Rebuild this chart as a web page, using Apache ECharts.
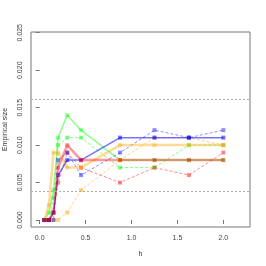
<!DOCTYPE html>
<html><head><meta charset="utf-8">
<script src="https://cdn.jsdelivr.net/npm/echarts@6/dist/echarts.min.js"></script>
<style>html,body{margin:0;padding:0;background:#fff}#c{width:266px;height:266px}</style>
</head><body><div id="c"></div>
<script>
var hValues = [0.05, 0.1, 0.15, 0.2, 0.3, 0.45, 0.875, 1.25, 1.625, 2.0];
var greenSolid   = [0, 0.001, 0.004, 0.011, 0.014, 0.012, 0.008, 0.008, 0.008, 0.008];
var greenDashed  = [0, 0, 0.003, 0.010, 0.011, 0.011, 0.007, 0.007, 0.010, 0.010];
var redSolid     = [0, 0, 0.001, 0.007, 0.010, 0.008, 0.008, 0.008, 0.008, 0.008];
var redDashed    = [0, 0, 0.001, 0.005, 0.009, 0.007, 0.005, 0.007, 0.006, 0.009];
var blueSolid    = [0, 0, 0.001, 0.006, 0.008, 0.008, 0.011, 0.011, 0.011, 0.011];
var blueDashed   = [0, 0, 0, 0.008, 0.009, 0.006, 0.009, 0.012, 0.011, 0.012];
var orangeSolid  = [0, 0.002, 0.009, 0.009, 0.007, 0.007, 0.010, 0.010, 0.010, 0.010];
var orangeDashed = [0, 0, 0, 0, 0.001, 0.004, 0.008, 0.011, 0.011, 0.010];
var xTicks = [0, 0.5, 1.0, 1.5, 2.0];
var yTicks = [0, 0.005, 0.010, 0.015, 0.020, 0.025];
var refLines = [0.003833, 0.016167];

function pairs(ys){ return hValues.map(function(x,i){ return [x, ys[i]]; }); }
function mk(ys, color, dashed, width, op, z){
  return {
    type:'line', data: pairs(ys), symbol:'rect', symbolSize:4,
    itemStyle:{color:color, opacity:op},
    lineStyle:{color:color, width: width, type: dashed?[3,2]:'solid', opacity:op},
    z: z, silent:true, animation:false
  };
}
var series = [
  mk(greenSolid,'#00ff00',false,1.5,0.45,2), mk(greenDashed,'#00ff00',true,1,0.5,2),
  mk(orangeSolid,'#ffa500',false,2.5,0.4,3), mk(orangeDashed,'#ffa500',true,1,0.5,2),
  mk(redSolid,'#ff0000',false,2.5,0.4,4), mk(redDashed,'#ff0000',true,1,0.45,2),
  mk(blueSolid,'#0000ff',false,1.5,0.55,3), mk(blueDashed,'#0000ff',true,1,0.45,2)
];
series[0].markLine = {symbol:'none', silent:true, animation:false, precision:6, label:{show:false},
  lineStyle:{color:'#aaa', type:[2,2], width:1, opacity:1},
  data: refLines.map(function(v){return {yAxis:v};})};
var chart = echarts.init(document.getElementById('c'), null, {renderer:'canvas'});
chart.setOption({
  animation:false,
  grid:{left:31, right:16, top:32, bottom:39, show:true, borderColor:'#777', borderWidth:1, backgroundColor:'transparent', containLabel:false, outerBoundsMode:'none'},
  xAxis:{type:'value', min:-0.095, max:2.29,
    name:'h', nameLocation:'middle', nameGap:24, nameTextStyle:{fontSize:7, color:'#333', fontFamily:'Liberation Sans'},
    axisLine:{show:false}, splitLine:{show:false},
    axisTick:{show:true, length:4, customValues:xTicks, lineStyle:{color:'#777'}},
    axisLabel:{customValues:xTicks, fontSize:7, color:'#444', margin:8, fontFamily:'Liberation Sans',
      formatter:function(v){return v.toFixed(1);}}},
  yAxis:{type:'value', min:-0.00093, max:0.0251,
    name:'Empirical size', nameLocation:'middle', nameGap:22, nameRotate:90,
    nameTextStyle:{fontSize:7, color:'#333', fontFamily:'Liberation Sans'},
    axisLine:{show:false}, splitLine:{show:false},
    axisTick:{show:true, length:4, customValues:yTicks, lineStyle:{color:'#777'}},
    axisLabel:{customValues:yTicks, fontSize:7, color:'#444', rotate:90, margin:7, fontFamily:'Liberation Sans',
      formatter:function(v){return v.toFixed(3);}}},
  series: series
});
</script></body></html>
